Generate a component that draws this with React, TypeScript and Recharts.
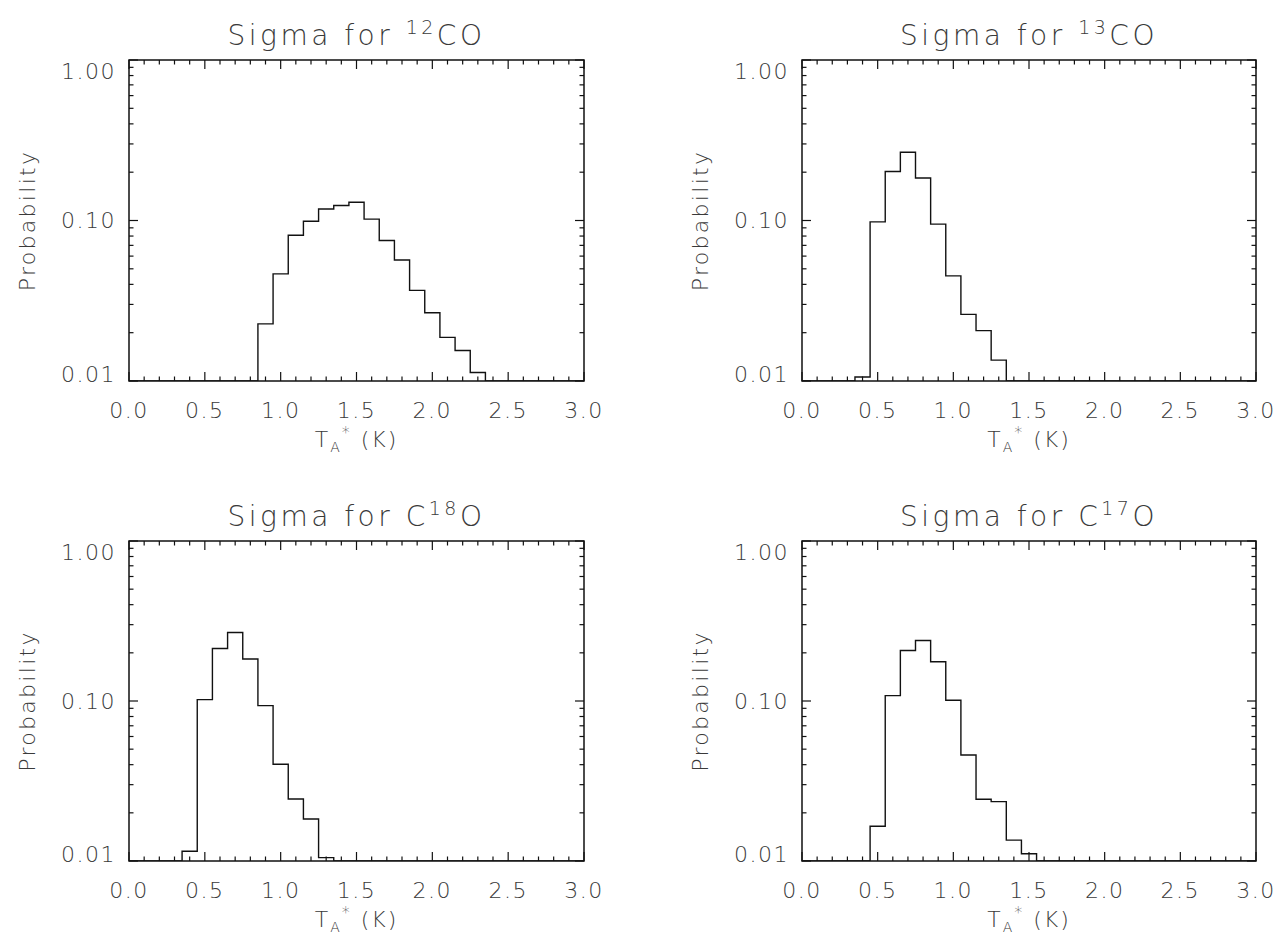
import { ComposedChart, Line, XAxis, YAxis, ReferenceArea } from 'recharts'

// bin centres of the antenna temperature histograms (K)
const tempBins = [
  0.0, 0.1, 0.2, 0.3, 0.4, 0.5, 0.6, 0.7, 0.8, 0.9, 1.0, 1.1, 1.2, 1.3, 1.4, 1.5,
  1.6, 1.7, 1.8, 1.9, 2.0, 2.1, 2.2, 2.3, 2.4, 2.5, 2.6, 2.7, 2.8, 2.9, 3.0,
]

// probability per bin; empty bins sit on the 0.01 floor of the plot
const sigma12CO = [
  0.01, 0.01, 0.01, 0.01, 0.01, 0.01, 0.01, 0.01, 0.01, 0.0227, 0.0465, 0.081, 0.099, 0.118, 0.124, 0.13,
  0.102, 0.075, 0.0567, 0.0367, 0.0266, 0.0187, 0.0155, 0.0113, 0.01, 0.01, 0.01, 0.01, 0.01, 0.01, 0.01,
]
const sigma13CO = [
  0.01, 0.01, 0.01, 0.01, 0.0106, 0.098, 0.202, 0.266, 0.184, 0.095, 0.0452, 0.026, 0.0206, 0.0135, 0.01, 0.01,
  0.01, 0.01, 0.01, 0.01, 0.01, 0.01, 0.01, 0.01, 0.01, 0.01, 0.01, 0.01, 0.01, 0.01, 0.01,
]
const sigmaC18O = [
  0.01, 0.01, 0.01, 0.01, 0.0115, 0.102, 0.213, 0.268, 0.183, 0.0935, 0.0402, 0.0244, 0.0183, 0.0105, 0.01, 0.01,
  0.01, 0.01, 0.01, 0.01, 0.01, 0.01, 0.01, 0.01, 0.01, 0.01, 0.01, 0.01, 0.01, 0.01, 0.01,
]
const sigmaC17O = [
  0.01, 0.01, 0.01, 0.01, 0.01, 0.0165, 0.108, 0.207, 0.239, 0.176, 0.101, 0.046, 0.0243, 0.0235, 0.0135, 0.0111,
  0.01, 0.01, 0.01, 0.01, 0.01, 0.01, 0.01, 0.01, 0.01, 0.01, 0.01, 0.01, 0.01, 0.01, 0.01,
]

const xMajor = [0, 0.5, 1.0, 1.5, 2.0, 2.5, 3.0]
const yMajor = [0.01, 0.1, 1]
const yMinor = [0.02, 0.03, 0.04, 0.05, 0.06, 0.07, 0.08, 0.09, 0.2, 0.3, 0.4, 0.5, 0.6, 0.7, 0.8, 0.9]

const FONT = "'DejaVu Sans', 'Noto Sans', sans-serif"
const TEXT = '#3a3a3a'
const INK = '#111'

type Box = { l: number; t: number; r: number; b: number }

const makeXTick = (plotH: number) => (props: any) => {
  const { x, y, payload } = props
  const v = payload.value as number
  const major = xMajor.some((m) => Math.abs(m - v) < 1e-6)
  const len = major ? 9 : 4.5
  return (
    <g>
      <line x1={x} x2={x} y1={y} y2={y - len} stroke={INK} strokeWidth={1.2} />
      <line x1={x} x2={x} y1={y - plotH} y2={y - plotH + len} stroke={INK} strokeWidth={1.2} />
      {major && (
        <text x={x} y={y + 29} textAnchor="middle" dominantBaseline="central" fontFamily={FONT} fontWeight={200} fontSize={22} letterSpacing={1.5} fill={TEXT}>
          {v.toFixed(1)}
        </text>
      )}
    </g>
  )
}

const makeYTick = (plotW: number) => (props: any) => {
  const { x, y, payload } = props
  const v = payload.value as number
  const major = yMajor.some((m) => Math.abs(m - v) < 1e-9)
  const len = major ? 9 : 4.5
  const dy = v >= 1 ? 11 : v <= 0.01 ? -7 : 0
  return (
    <g>
      <line x1={x} x2={x + len} y1={y} y2={y} stroke={INK} strokeWidth={1.2} />
      <line x1={x + plotW} x2={x + plotW - len} y1={y} y2={y} stroke={INK} strokeWidth={1.2} />
      {major && (
        <text x={x - 13} y={y + dy} textAnchor="end" dominantBaseline="central" fontFamily={FONT} fontWeight={200} fontSize={22} letterSpacing={1.5} fill={TEXT}>
          {v.toFixed(2)}
        </text>
      )}
    </g>
  )
}

interface PanelProps {
  left: number
  top: number
  width: number
  height: number
  box: Box
  values: number[]
  isotope: 'pre' | 'mid'
  mass: string
}

function Panel({ left, top, width, height, box, values, isotope, mass }: PanelProps) {
  const data = tempBins.map((t, i) => ({ t, p: values[i] }))
  const plotW = box.r - box.l
  const plotH = box.b - box.t
  const cx = (box.l + box.r) / 2
  const cy = (box.t + box.b) / 2

  return (
    <div style={{ position: 'absolute', left, top, width, height }}>
      <ComposedChart width={width} height={height} data={data} margin={{ top: box.t, right: 0, bottom: 0, left: 0 }}>
        <XAxis
          dataKey="t"
          type="number"
          domain={[0, 3]}
          ticks={tempBins}
          interval={0}
          height={height - box.b}
          axisLine={false}
          tickLine={false}
          tickSize={0}
          tickMargin={0}
          tick={makeXTick(plotH)}
        />
        <YAxis
          type="number"
          scale="log"
          domain={[0.01, 1]}
          allowDataOverflow
          ticks={[...yMajor, ...yMinor]}
          interval={0}
          width={box.l}
          axisLine={false}
          tickLine={false}
          tickSize={0}
          tickMargin={0}
          tick={makeYTick(plotW)}
        />
        <YAxis yAxisId="pad" orientation="right" width={width - box.r} tick={false} axisLine={false} tickLine={false} />
        <ReferenceArea x1={0} x2={3} y1={0.01} y2={1} fill="none" stroke={INK} strokeWidth={1.5} ifOverflow="visible" />
        <Line
          type="step"
          dataKey="p"
          stroke={INK}
          strokeWidth={1.4}
          dot={false}
          activeDot={false}
          isAnimationActive={false}
        />
      </ComposedChart>
      <svg width={width} height={height} style={{ position: 'absolute', left: 0, top: 0, pointerEvents: 'none' }}>
        <text x={cx} y={box.t - 15} textAnchor="middle" fontFamily={FONT} fontWeight={200} fontSize={28} letterSpacing={3.5} fill={TEXT}>
          {isotope === 'pre' ? (
            <>
              Sigma for <tspan dy={-11} fontSize={19}>{mass}</tspan>
              <tspan dy={11}>CO</tspan>
            </>
          ) : (
            <>
              Sigma for C<tspan dy={-11} fontSize={19}>{mass}</tspan>
              <tspan dy={11}>O</tspan>
            </>
          )}
        </text>
        <text
          x={box.l - 102}
          y={cy}
          transform={`rotate(-90 ${box.l - 102} ${cy})`}
          textAnchor="middle"
          dominantBaseline="central"
          fontFamily={FONT}
          fontWeight={200}
          fontSize={22}
          letterSpacing={2.3}
          fill={TEXT}
        >
          Probability
        </text>
        <text x={cx} y={box.b + 66} textAnchor="middle" fontFamily={FONT} fontWeight={200} fontSize={22} letterSpacing={2} fill={TEXT}>
          T<tspan dy={5} fontSize={14}>A</tspan>
          <tspan dy={-14} fontSize={16}>*</tspan>
          <tspan dy={9}> (K)</tspan>
        </text>
      </svg>
    </div>
  )
}

export default function App() {
  return (
    <div style={{ position: 'absolute', left: 0, top: 0, width: 1278, height: 943, background: '#fff' }}>
      <Panel left={0} top={0} width={640} height={470} box={{ l: 129, t: 60, r: 584, b: 381 }} values={sigma12CO} isotope="pre" mass="12" />
      <Panel left={640} top={0} width={638} height={470} box={{ l: 162, t: 60, r: 616, b: 381 }} values={sigma13CO} isotope="pre" mass="13" />
      <Panel left={0} top={470} width={640} height={473} box={{ l: 129, t: 71, r: 584, b: 391 }} values={sigmaC18O} isotope="mid" mass="18" />
      <Panel left={640} top={470} width={638} height={473} box={{ l: 162, t: 71, r: 616, b: 391 }} values={sigmaC17O} isotope="mid" mass="17" />
    </div>
  )
}
